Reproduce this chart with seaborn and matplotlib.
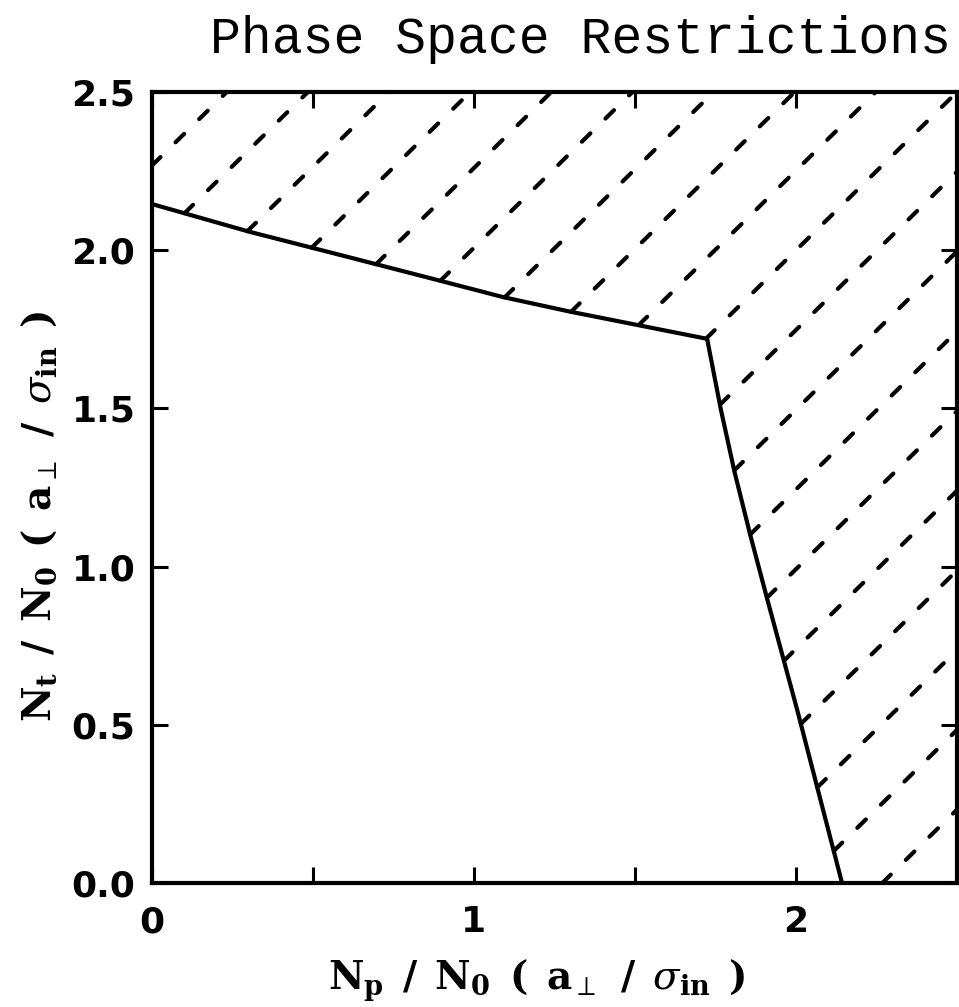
import numpy as np
import matplotlib
matplotlib.use("Agg")
import matplotlib.pyplot as plt
from matplotlib.path import Path
import seaborn as sns
import pandas as pd

# Boundary of the allowed region (N_p, N_t), both in units of N0 (a_perp / sigma_in)
boundary_x = [0.0, 0.304, 0.600, 0.863, 1.090, 1.298, 1.506, 1.724,
              1.766, 1.809, 1.858, 1.910, 2.003, 2.143]
boundary_y = [2.146, 2.058, 1.981, 1.912, 1.852, 1.806, 1.764, 1.720,
              1.500, 1.300, 1.100, 0.900, 0.550, 0.0]

# Forbidden-region hatching: lines y = x + c
hatch_step = 0.252
hatch_count = 9

x_ticks = [0.0, 0.5, 1.0, 1.5, 2.0, 2.5]
x_tick_labels = ["0", "", "1", "", "2", ""]
y_ticks = [0.0, 0.5, 1.0, 1.5, 2.0, 2.5]
y_tick_labels = ["0.0", "0.5", "1.0", "1.5", "2.0", "2.5"]

title = "Phase Space Restrictions"
gap = r"\ \,"


def axis_label(sub):
    parts = [r"\mathbf{N}_{\mathbf{%s}}" % sub, r"\mathbf{/}", r"\mathbf{N}_{\mathbf{0}}",
             r"\mathbf{(}", r"\mathbf{a}_{\perp}", r"\mathbf{/}",
             r"\sigma_{\mathbf{in}}", r"\mathbf{)}"]
    return "$" + gap.join(parts) + "$"


x_label = axis_label("p")
y_label = axis_label("t")

sns.set_theme(style="ticks")
plt.rcParams["font.family"] = ["DejaVu Sans"]
plt.rcParams["mathtext.fontset"] = "dejavuserif"
plt.rcParams["lines.scale_dashes"] = False

fig = plt.figure(figsize=(9.59, 10.07), dpi=100)
ax = fig.add_axes([0.1585, 0.1231, 0.8394, 0.7855])
xmax, ymax = 2.5, 2.5
ax.set_xlim(0, xmax)
ax.set_ylim(0, ymax)

df = pd.DataFrame({"x": boundary_x, "y": boundary_y})
sns.lineplot(data=df, x="x", y="y", sort=False, color="black",
             linewidth=3.0, ax=ax, estimator=None)

# Hatch lines start where each line leaves the allowed region
poly = Path(list(zip([0.0] + boundary_x, [0.0] + boundary_y)) + [(0.0, 0.0)])
for k in range(-hatch_count, hatch_count + 1):
    c = k * hatch_step
    xs = np.linspace(max(0.0, -c), min(xmax, ymax - c), 5000)
    ys = xs + c
    inside = poly.contains_points(np.column_stack([xs, ys]), radius=-1e-9)
    outside = np.where(~inside)[0]
    if len(outside) == 0:
        continue
    i0 = outside[0]
    ax.plot([xs[i0], xs[-1]], [ys[i0], ys[-1]], color="black", linewidth=3.0,
            linestyle=(0, (8.6, 15.2)), dash_capstyle="round", solid_capstyle="round")

for side in ["left", "right", "top", "bottom"]:
    ax.spines[side].set_linewidth(3.0)
    ax.spines[side].set_color("black")

ax.set_xticks(x_ticks)
ax.set_xticklabels(x_tick_labels)
ax.set_yticks(y_ticks)
ax.set_yticklabels(y_tick_labels)
ax.tick_params(direction="in", length=11.5, width=2.2, color="black",
               top=True, right=True, labelsize=26, labelcolor="black")
ax.tick_params(axis="x", pad=16)
ax.tick_params(axis="y", pad=12)
for lab in ax.get_xticklabels() + ax.get_yticklabels():
    lab.set_fontweight("bold")

ax.set_xlabel(x_label, fontsize=28, color="black")
ax.set_ylabel(y_label, fontsize=28, color="black")
ax.xaxis.set_label_coords(0.478, -0.094)
ax.yaxis.set_label_coords(-0.116, 0.463)
fig.text(0.605, 0.985, title, ha="center", va="top", fontsize=37,
         family=["Liberation Mono", "DejaVu Sans Mono"], color="black")

fig.savefig("out.png", dpi=100, facecolor="white")
